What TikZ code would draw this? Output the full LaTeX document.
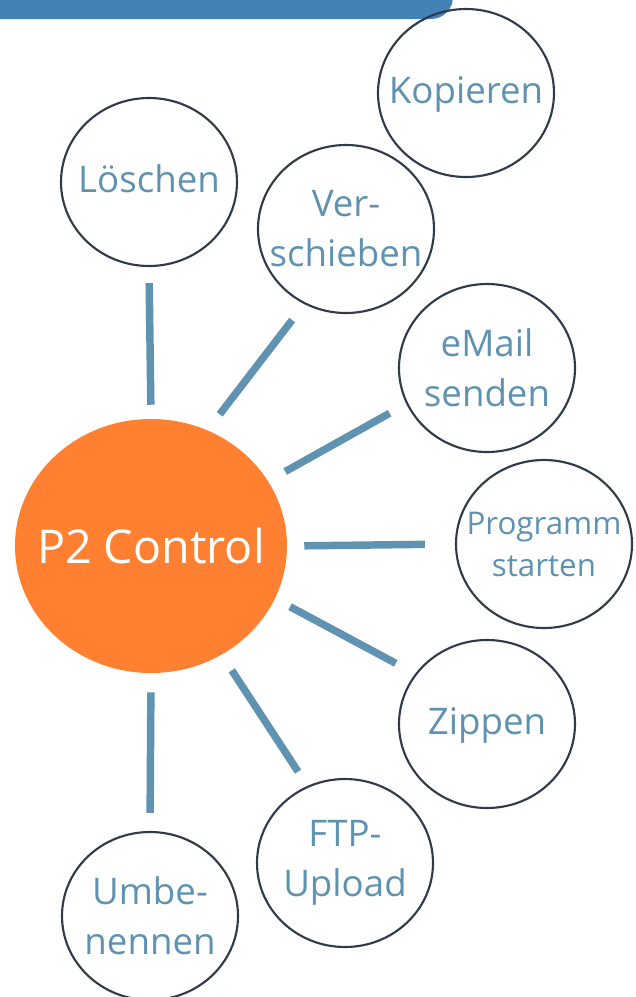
\documentclass[tikz,border=0pt]{standalone}
\usepackage{fontspec}
\setmainfont{Open Sans}
\usetikzlibrary{shapes.geometric}
\definecolor{barBlue}{RGB}{66,130,183}
\definecolor{textBlue}{RGB}{94,146,176}
\definecolor{lineBlue}{RGB}{96,147,177}
\definecolor{ringGray}{RGB}{48,58,74}
\definecolor{hubOrange}{RGB}{255,128,49}

\begin{document}
\begin{tikzpicture}
[x=0.75pt,y=-0.75pt,
 hubDecorate/.style={shape=ellipse,fill=hubOrange,text=white,minimum width=204pt,
   minimum height=190.5pt,inner xsep=-20pt,inner ysep=0pt,font=\fontsize{35}{42}\selectfont},
 nodeDecorate/.style={shape=ellipse,draw=ringGray,line width=1.6pt,text=textBlue,
   align=center,minimum width=132pt,minimum height=126pt,inner xsep=-14pt,inner ysep=0pt,
   font=\fontsize{27.5}{37.5}\selectfont},
 oneLine/.style={text height=21pt,text depth=6pt},
 lineDecorate/.style={-,draw=lineBlue,line width=5.6pt}]
\useasboundingbox (0,0) rectangle (636,997);
%% title bar
\fill[barBlue,rounded corners=16.5pt] (-40,-40) rectangle (453,19);
%% hub
\node (hub) at (151,546) [hubDecorate] {P2 Control};
%% nodes or vertices
\foreach \nodename/\x/\y/\txt/\sty in {
  kopieren/466/93/{Kopieren}/oneLine, loeschen/149/182/{Löschen}/oneLine,
  verschieben/346/229/{Ver-\\schieben}/{}, email/487/368/{eMail\\senden}/{},
  zippen/487/724/{Zippen}/oneLine, ftp/345/863/{FTP-\\Upload}/{},
  umbenennen/150/916/{Umbe-\\nennen}/{}}
{
  \node (\nodename) at (\x,\y) [nodeDecorate,\sty] {\txt};
}
\node (programm) at (544,544) [nodeDecorate,font=\fontsize{23.5}{31.5}\selectfont]
  {Programm\\starten};
%% edges or lines
\path
\foreach \startangle/\endnode/\endangle/\gapa/\gapb in {
  90/loeschen/270/10.5/12, 64/verschieben/241/15/15, 29/email/204/14.6/14.3,
  0/programm/180/12.75/22.5, 337/zippen/145/12.75/16.5, 303/ftp/116.5/13.9/12.75,
  270/umbenennen/90/14.25/13.5}
{
  (hub.\startangle) edge[lineDecorate,shorten <=\gapa pt,shorten >=\gapb pt]
    (\endnode.\endangle)
};
\end{tikzpicture}
\end{document}
